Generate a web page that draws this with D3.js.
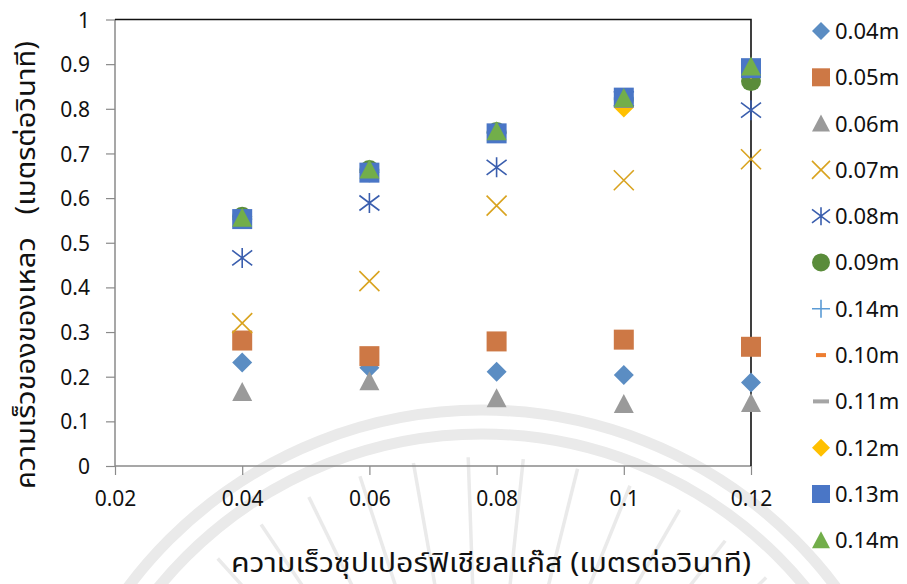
<!DOCTYPE html>
<html>
<head>
<meta charset="utf-8">
<script src="https://cdn.jsdelivr.net/npm/d3@7"></script>
<style>
  body { margin: 0; background: #fff; }
  svg { display: block; }
</style>
</head>
<body>
<svg id="chart" width="907" height="584"></svg>
<script>
// x positions (superficial gas velocity)
var xValues = [0.04, 0.06, 0.08, 0.1, 0.12];
var xTicks = [0.02, 0.04, 0.06, 0.08, 0.1, 0.12];
var yTicks = [0, 0.1, 0.2, 0.3, 0.4, 0.5, 0.6, 0.7, 0.8, 0.9, 1];

// liquid velocity, one array per series (legend order)
var s004 = [0.232, 0.220, 0.211, 0.204, 0.187];
var s005 = [0.281, 0.246, 0.279, 0.283, 0.267];
var s006 = [0.166, 0.190, 0.152, 0.139, 0.141];
var s007 = [0.320, 0.414, 0.583, 0.640, 0.687];
var s008 = [0.466, 0.589, 0.669, 0.822, 0.797];
var s009 = [0.558, 0.663, 0.748, 0.820, 0.862];
var s014plus = [0.553, 0.658, 0.746, 0.824, 0.891];
var s010 = [0.553, 0.658, 0.746, 0.824, 0.891];
var s011 = [0.553, 0.658, 0.746, 0.824, 0.891];
var s012 = [0.553, 0.658, 0.746, 0.803, 0.889];
var s013 = [0.553, 0.657, 0.745, 0.825, 0.891];
var s014 = [0.556, 0.664, 0.750, 0.824, 0.895];

var seriesNames = ["0.04m", "0.05m", "0.06m", "0.07m", "0.08m", "0.09m",
                   "0.14m", "0.10m", "0.11m", "0.12m", "0.13m", "0.14m"];
var seriesValues = [s004, s005, s006, s007, s008, s009, s014plus, s010, s011, s012, s013, s014];
var seriesMarkers = ["diamond", "square", "triangle", "x", "star", "circle",
                     "plus", "dash", "longdash", "diamond", "square", "triangle"];
var seriesColors = ["#5b8dc3", "#cd7845", "#9a9a9a", "#d9a31f", "#3a5eae", "#5a8c3a",
                    "#5b9bd5", "#ed7d31", "#a5a5a5", "#ffc000", "#4a76c6", "#72ae4a"];

var xTitle = "ความเร็วซุปเปอร์ฟิเชียลแก๊ส (เมตรต่อวินาที)";
var yTitle = "ความเร็วของของเหลว   (เมตรต่อวินาที)";

var svg = d3.select("#chart");
var font = "'Noto Sans', 'DejaVu Sans', sans-serif";
var thaiFont = "'Noto Sans Thai', 'Noto Sans', 'DejaVu Sans', sans-serif";

var x = d3.scaleLinear().domain([0.02, 0.12]).range([115, 751]);
var y = d3.scaleLinear().domain([0, 1]).range([466, 19.5]);

// faint watermark behind the chart
var wm = svg.append("g").attr("fill", "none").attr("stroke", "#eaeaea");
[442, 418].forEach(function(r){
  wm.append("circle").attr("cx", 482).attr("cy", 852).attr("r", r).attr("stroke-width", 11);
});
d3.range(-50, 51, 8).forEach(function(a){
  var rad = (a - 90) * Math.PI / 180;
  wm.append("line")
    .attr("x1", 482 + 230 * Math.cos(rad)).attr("y1", 852 + 230 * Math.sin(rad))
    .attr("x2", 482 + 395 * Math.cos(rad)).attr("y2", 852 + 395 * Math.sin(rad))
    .attr("stroke-width", 3.5);
});

// axes
var yAxis = svg.append("g")
  .attr("transform", "translate(115,0)")
  .call(d3.axisLeft(y).tickValues(yTicks).tickSize(9).tickPadding(16)
    .tickFormat(function(d){ return d3.format("")(+d.toFixed(1)); }));
var xAxis = svg.append("g")
  .attr("transform", "translate(0,466)")
  .call(d3.axisBottom(x).tickValues(xTicks).tickSize(9).tickPadding(16)
    .tickFormat(function(d){ return d3.format("")(+d.toFixed(2)); }));

[yAxis, xAxis].forEach(function(ax){
  ax.select(".domain").attr("stroke", "#8a8a8a").attr("stroke-width", 1.5);
  ax.selectAll(".tick line").attr("stroke", "#8a8a8a").attr("stroke-width", 1.2);
  ax.selectAll(".tick text").attr("fill", "#111").style("font-family", font).style("font-size", "21px");
});
yAxis.select(".domain").attr("d", "M0,19.5V466");
xAxis.select(".domain").attr("d", "M115,0H751");
yAxis.selectAll(".tick text").attr("dy", "0.36em");

// top and right borders (black)
svg.append("path")
  .attr("d", "M" + x(0.02) + "," + y(1) + "H" + x(0.12) + "V" + y(0))
  .attr("fill", "none").attr("stroke", "#111").attr("stroke-width", 1.6);

// marker shapes
var markerPath = function(type, s){
  var h = s / 2;
  if (type === "diamond") return "M0," + (-h) + "L" + h + ",0L0," + h + "L" + (-h) + ",0Z";
  if (type === "square") return "M" + (-h) + "," + (-h) + "h" + s + "v" + s + "h" + (-s) + "Z";
  if (type === "triangle") return "M0," + (-h) + "L" + h + "," + (h - 1) + "L" + (-h) + "," + (h - 1) + "Z";
  if (type === "x") return "M" + (-h) + "," + (-h) + "L" + h + "," + h + "M" + h + "," + (-h) + "L" + (-h) + "," + h;
  if (type === "star") return "M" + (-h) + "," + (-h * 0.75) + "L" + h + "," + (h * 0.75) +
    "M" + h + "," + (-h * 0.75) + "L" + (-h) + "," + (h * 0.75) + "M0," + (-h) + "V" + h;
  if (type === "plus") return "M" + (-h) + ",0H" + h + "M0," + (-h) + "V" + h;
  return "";
};

var drawMarker = function(g, type, color, cx, cy, s){
  if (type === "circle") {
    g.append("circle").attr("cx", cx).attr("cy", cy).attr("r", s / 2).attr("fill", color);
  } else if (type === "dash") {
    g.append("rect").attr("x", cx - 5).attr("y", cy - 2).attr("width", 10).attr("height", 4).attr("fill", color);
  } else if (type === "longdash") {
    g.append("rect").attr("x", cx - 8).attr("y", cy - 2).attr("width", 16).attr("height", 4).attr("fill", color);
  } else {
    var line = (type === "x" || type === "star" || type === "plus");
    g.append("path")
      .attr("transform", "translate(" + cx + "," + cy + ")")
      .attr("d", markerPath(type, s))
      .attr("fill", line ? "none" : color)
      .attr("stroke", line ? color : "none")
      .attr("stroke-width", line ? 1.6 : 0);
  }
};

// points
var points = svg.append("g");
seriesValues.forEach(function(vals, i){
  var g = points.append("g").attr("class", "series-" + i);
  vals.forEach(function(v, j){
    drawMarker(g, seriesMarkers[i], seriesColors[i], x(xValues[j]), y(v), 20);
  });
});

// legend
var legend = svg.append("g");
seriesNames.forEach(function(name, i){
  var ly = 31 + i * 46.3;
  drawMarker(legend, seriesMarkers[i], seriesColors[i], 821, ly, 18);
  legend.append("text")
    .attr("x", 835).attr("y", ly)
    .attr("dy", "0.36em")
    .style("font-family", font).style("font-size", "22px")
    .attr("fill", "#111")
    .text(name);
});

// axis titles
svg.append("text")
  .attr("x", 491).attr("y", 572)
  .attr("text-anchor", "middle")
  .attr("textLength", 520).attr("lengthAdjust", "spacingAndGlyphs")
  .style("font-family", thaiFont).style("font-size", "27px")
  .attr("fill", "#111")
  .text(xTitle);

svg.append("text")
  .attr("transform", "translate(35,265) rotate(-90)")
  .attr("text-anchor", "middle")
  .attr("textLength", 448).attr("lengthAdjust", "spacingAndGlyphs")
  .style("font-family", thaiFont).style("font-size", "27px")
  .style("white-space", "pre")
  .attr("fill", "#111")
  .text(yTitle);
</script>
</body>
</html>
